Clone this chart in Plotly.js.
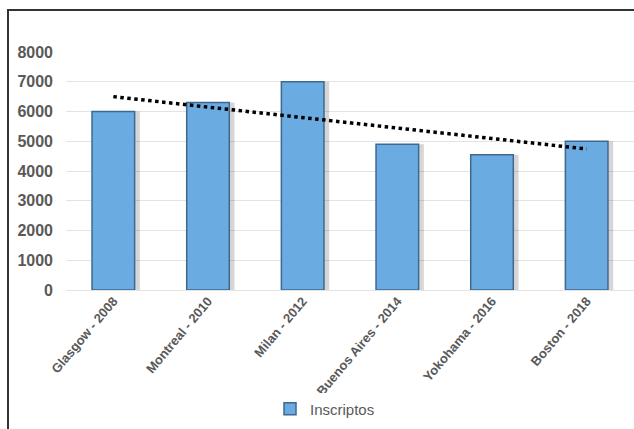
<!DOCTYPE html>
<html>
<head>
<meta charset="utf-8">
<script src="https://cdn.plot.ly/plotly-3.0.1.min.js"></script>
<style>
  html, body { margin: 0; padding: 0; background: #fff; }
  #wrap { position: relative; width: 634px; height: 429px; overflow: hidden; }
  #chart { position: absolute; left: 0; top: 0; width: 634px; height: 429px; }
  #frame { position: absolute; left: 7px; top: 9px; width: 640px; height: 440px;
           border-left: 2px solid #333; border-top: 2px solid #333; pointer-events: none; }
</style>
</head>
<body>
<div id="wrap">
  <div id="chart"></div>
  <div id="frame"></div>
</div>
<script>
const categories = ["Glasgow - 2008", "Montreal - 2010", "Milan - 2012", "Buenos Aires - 2014", "Yokohama - 2016", "Boston - 2018"];
const inscriptos = [6000, 6300, 7000, 4900, 4550, 5000];
const trendCategories = ["Glasgow - 2008", "Boston - 2018"];
const trendValues = [6500, 4740];
const yTicks = [0, 1000, 2000, 3000, 4000, 5000, 6000, 7000, 8000];

const shadow = {
  type: "bar", x: categories, y: inscriptos, width: 0.5, offset: -0.22,
  marker: { color: "rgba(0,0,0,0.16)", line: { width: 0 } },
  showlegend: false, hoverinfo: "skip"
};
const bars = {
  type: "bar", name: "Inscriptos", x: categories, y: inscriptos, width: 0.45,
  marker: { color: "#6aace2", line: { color: "#3d6890", width: 1.5 } }
};
const trend = {
  type: "scatter", mode: "lines", x: trendCategories, y: trendValues,
  line: { color: "#000", width: 3.5, dash: "dot" },
  showlegend: false, hoverinfo: "skip"
};

Plotly.newPlot("chart", [shadow, bars, trend], {
  width: 634, height: 429,
  margin: { l: 66, r: 0, t: 52, b: 139 },
  paper_bgcolor: "#fff", plot_bgcolor: "#fff",
  barmode: "overlay",
  font: { family: "Liberation Sans, Arial, sans-serif", color: "#595959" },
  xaxis: {
    type: "category", tickangle: -50, showgrid: false, zeroline: false,
    showline: false, ticks: "",
    tickfont: { size: 13, color: "#595959", weight: "bold" }
  },
  yaxis: {
    range: [0, 8000], tickvals: yTicks, ticktext: yTicks.map(String),
    showgrid: true, gridcolor: "#e3e3e3", gridwidth: 1,
    zeroline: true, zerolinecolor: "#e3e3e3", showline: false, ticks: "",
    ticklabelstandoff: 12,
    tickfont: { size: 16, color: "#595959", weight: "bold" }
  },
  legend: {
    orientation: "h", x: 0.456, xanchor: "center", y: -0.5, yanchor: "middle",
    font: { size: 15, color: "#595959" }
  },
  showlegend: true
}, { displayModeBar: false, staticPlot: true });
</script>
</body>
</html>
